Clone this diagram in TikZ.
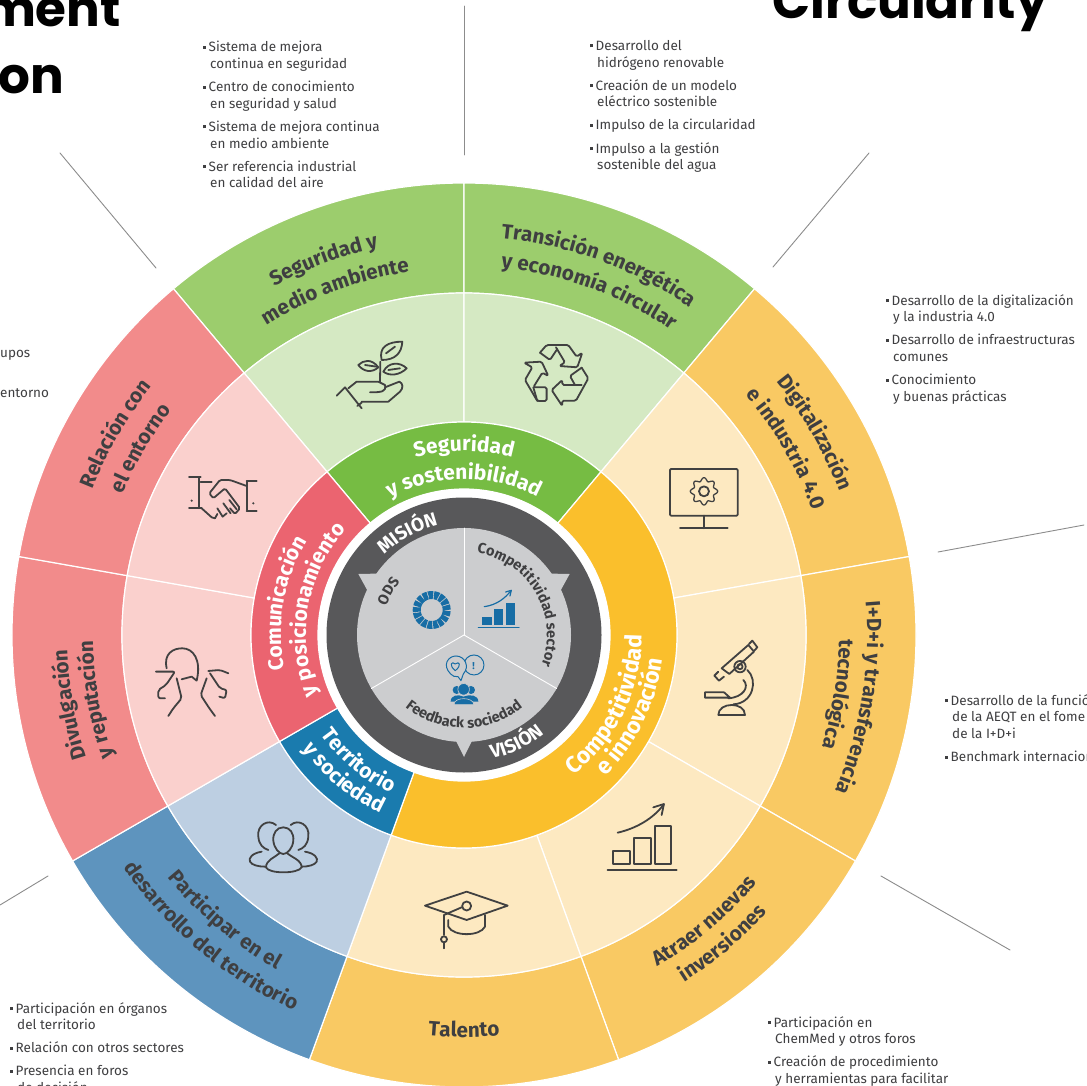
\documentclass[tikz,border=0pt]{standalone}
\usepackage{fontspec}
\setmainfont{Fira Sans}
\newfontfamily\headfont{Poppins}
\usetikzlibrary{decorations.text}
\definecolor{greenout}{rgb}{0.612,0.804,0.427}
\definecolor{greenmid}{rgb}{0.835,0.914,0.765}
\definecolor{greenin}{rgb}{0.463,0.737,0.263}
\definecolor{yellowout}{rgb}{0.976,0.788,0.388}
\definecolor{yellowmid}{rgb}{0.992,0.914,0.757}
\definecolor{yellowin}{rgb}{0.980,0.749,0.173}
\definecolor{redout}{rgb}{0.949,0.545,0.545}
\definecolor{redmid}{rgb}{0.980,0.816,0.804}
\definecolor{redin}{rgb}{0.922,0.392,0.439}
\definecolor{blueout}{rgb}{0.369,0.580,0.745}
\definecolor{bluemid}{rgb}{0.741,0.812,0.886}
\definecolor{bluein}{rgb}{0.102,0.482,0.682}
\definecolor{darkring}{rgb}{0.345,0.345,0.353}
\definecolor{graydisc}{rgb}{0.800,0.804,0.812}
\definecolor{labeldark}{rgb}{0.247,0.247,0.255}
\definecolor{icondark}{rgb}{0.255,0.255,0.255}
\definecolor{iconblue}{rgb}{0.090,0.427,0.647}
\newcommand{\outfont}{\color{labeldark}\bfseries\fontsize{20.6}{20}\selectfont}
\newcommand{\infont}{\color{white}\bfseries\fontsize{21}{21}\selectfont}
\newcommand{\bigfont}{\color{white}\bfseries\fontsize{23}{23}\selectfont}
\newcommand{\ringfont}{\color{white}\bfseries\fontsize{19}{19}\selectfont}
\newcommand{\discfont}{\color{labeldark}\bfseries\fontsize{14.6}{14}\selectfont}
\newcommand{\ringsec}[5]{\filldraw[fill=#1,draw=white,line width=1.2pt] (#2:#4pt) arc[start angle=#2,end angle=#3,radius=#4pt] -- (#3:#5pt) arc[start angle=#3,end angle=#2,radius=#5pt] -- cycle;}
\newcommand{\toparc}[4]{\path[decorate,decoration={text along path,text align=center,text={|#3|#4}}] ({#2+85}:#1pt) arc[start angle={#2+85},end angle={#2-85},radius=#1pt];}
\newcommand{\botarc}[4]{\path[decorate,decoration={text along path,text align=center,text={|#3|#4}}] ({#2-85}:#1pt) arc[start angle={#2-85},end angle={#2+85},radius=#1pt];}
\newcommand{\bul}{\rule[3pt]{3pt}{3pt}\hspace{2.5pt}}
\newcommand{\ind}{\hspace*{7pt}}
\tikzset{
  listbox/.style={anchor=north west,inner sep=0pt,align=left,text=labeldark,font=\fontsize{13.5}{16.7}\selectfont},
  headtxt/.style={anchor=base east,inner sep=0pt,font=\headfont\bfseries\fontsize{50}{50}\selectfont},
  sepline/.style={draw=black!45,line width=0.9pt},
  iconline/.style={draw=icondark,line width=1.8pt,fill=none},
  zoomA/.style={shift={(320,-330)},x=0.3333pt,y=-0.3333pt},
  zoomB/.style={shift={(650,-450)},x=0.3333pt,y=-0.3333pt},
  zoomC/.style={shift={(240,-770)},x=0.3333pt,y=-0.3333pt},
  zoomD/.style={shift={(130,-340)},x=0.3333pt,y=-0.3333pt},
  zoomE/.style={shift={(300,-470)},x=0.3333pt,y=-0.3333pt}
}
\begin{document}
\begin{tikzpicture}[line cap=round,line join=round,x=1pt,y=1pt]
	\useasboundingbox (0,-1086) rectangle (1087,0);
	\clip (0,-1086) rectangle (1087,0);
	\fill [white] (0,-1086) rectangle (1087,0);
	% headings cut by the page
	\node[headtxt] (headment) at (121,-27) {ment};
	\node[headtxt] (headon) at (64,-94) {on};
	\node[headtxt] (headcirc) at (1048,-19) {Circularity};
	% thin lines between the lists
	\draw [sepline] (464,-6) -- (464,-155);
	\draw [sepline] (60,-153) -- (156,-268);
	\draw [sepline] (869,-153) -- (773,-267);
	\draw [sepline] (938,-552) -- (1084,-525);
	\draw [sepline] (881,-876) -- (1010,-950);
	\draw [sepline] (48,-876) -- (0,-905);
	% lists
	\node[listbox] (listsafe) at (203,-41) {\bul Sistema de mejora\\\ind continua en seguridad\\[6.4pt]\bul Centro de conocimiento\\\ind en seguridad y salud\\[6.4pt]\bul Sistema de mejora continua\\\ind en medio ambiente\\[6.4pt]\bul Ser referencia industrial\\\ind en calidad del aire};
	\node[listbox] (listenergy) at (590,-40) {\bul Desarrollo del\\\ind hidrógeno renovable\\[6.4pt]\bul Creación de un modelo\\\ind eléctrico sostenible\\[6.4pt]\bul Impulso de la circularidad\\[6.4pt]\bul Impulso a la gestión\\\ind sostenible del agua};
	\node[listbox] (listdigital) at (886,-294) {\bul Desarrollo de la digitalización\\\ind y la industria 4.0\\[6.4pt]\bul Desarrollo de infraestructuras\\\ind comunes\\[6.4pt]\bul Conocimiento\\\ind y buenas prácticas};
	\node[listbox] (listrd) at (945,-694) {\bul Desarrollo de la funció\\\ind de la AEQT en el fome\\\ind de la I+D+i\\[6.4pt]\bul Benchmark internacion};
	\node[listbox,anchor=base west] (listupos) at (0,-357) {upos};
	\node[listbox,anchor=base west] (listentorno) at (0,-397) {entorno};
	\node[listbox] (listland) at (10,-1002) {\bul Participación en órganos\\\ind del territorio\\[6.4pt]\bul Relación con otros sectores\\[6.4pt]\bul Presencia en foros\\\ind de decisión};
	\node[listbox] (listinvest) at (768,-1016) {\bul Participación en\\\ind ChemMed y otros foros\\[6.4pt]\bul Creación de procedimiento\\\ind y herramientas para facilitar};
	% the wheel
	\begin{scope}[shift={(464,-635)}]
		\ringsec{greenout}{130}{90}{452}{342}
		\ringsec{greenout}{90}{50}{452}{342}
		\ringsec{yellowout}{50}{10}{452}{342}
		\ringsec{yellowout}{10}{-30}{452}{342}
		\ringsec{yellowout}{-30}{-70}{452}{342}
		\ringsec{yellowout}{-70}{-110}{452}{342}
		\ringsec{blueout}{-110}{-150}{452}{342}
		\ringsec{redout}{-150}{-190}{452}{342}
		\ringsec{redout}{170}{130}{452}{342}
		\ringsec{greenmid}{130}{90}{342}{213}
		\ringsec{greenmid}{90}{50}{342}{213}
		\ringsec{yellowmid}{50}{10}{342}{213}
		\ringsec{yellowmid}{10}{-30}{342}{213}
		\ringsec{yellowmid}{-30}{-70}{342}{213}
		\ringsec{yellowmid}{-70}{-110}{342}{213}
		\ringsec{bluemid}{-110}{-150}{342}{213}
		\ringsec{redmid}{-150}{-190}{342}{213}
		\ringsec{redmid}{170}{130}{342}{213}
		\ringsec{greenin}{130}{50}{213}{146}
		\ringsec{yellowin}{50}{-110}{213}{146}
		\ringsec{bluein}{-110}{-150}{213}{146}
		\ringsec{redin}{210}{130}{213}{146}
		\fill [white] (0,0) circle (146pt);
		\fill [darkring] (0,0) circle (137.5pt);
		\fill [graydisc] (0,0) circle (107pt);
		\fill [graydisc] (-90:122pt) -- (-95:104pt) -- (-85:104pt) -- cycle;
		\fill [graydisc] (150:122pt) -- (142:100pt) -- (158:100pt) -- cycle;
		\fill [graydisc] (30:122pt) -- (22:100pt) -- (38:100pt) -- cycle;
		\draw [white,line width=0.9pt] (0,0) -- (90:107pt);
		\draw [white,line width=0.9pt] (0,0) -- (-30:107pt);
		\draw [white,line width=0.9pt] (0,0) -- (210:107pt);
		% labels of the outer ring
		\toparc{397}{110.5}{\outfont}{Seguridad y}
		\toparc{367}{110.5}{\outfont}{medio ambiente}
		\toparc{398}{70}{\outfont}{Transición energética}
		\toparc{369}{70}{\outfont}{y economía circular}
		\toparc{402}{30}{\outfont}{Digitalización}
		\toparc{370}{30}{\outfont}{e industria 4.0}
		\toparc{403}{-9}{\outfont}{I+D+i y transferencia}
		\toparc{375}{-9}{\outfont}{tecnológica}
		\botarc{384}{-50}{\outfont}{Atraer nuevas}
		\botarc{411}{-50}{\outfont}{inversiones}
		\botarc{402}{-90}{\outfont}{Talento}
		\botarc{383}{-130}{\outfont}{Participar en el}
		\botarc{412}{-130}{\outfont}{desarrollo del territorio}
		\toparc{397}{190}{\outfont}{Divulgación}
		\toparc{371}{190}{\outfont}{y reputación}
		\toparc{399}{150}{\outfont}{Relación con}
		\toparc{369}{150}{\outfont}{el entorno}
		% labels of the inner ring
		\toparc{184}{90}{\infont}{Seguridad}
		\toparc{156}{90}{\infont}{y sostenibilidad}
		\toparc{183}{170}{\infont}{Comunicación}
		\toparc{158}{170}{\infont}{y posicionamiento}
		\botarc{178}{-26}{\bigfont}{Competitividad}
		\botarc{200}{-26}{\bigfont}{e innovación}
		\botarc{174}{-130}{\infont}{Territorio}
		\botarc{197}{-130}{\infont}{y sociedad}
		% labels of the disc
		\toparc{113}{119}{\ringfont}{MISIÓN}
		\botarc{127}{-64}{\ringfont}{VISIÓN}
		\toparc{83}{30}{\discfont}{Competitividad sector}
		\toparc{83}{150}{\discfont}{ODS}
		\botarc{93}{-90}{\discfont}{Feedback sociedad}
	\end{scope}
	% icons of the disc
	\draw [iconblue,line cap=butt,line width=8pt,dash pattern=on 4.6pt off 0.94pt] (431.7,-610) circle (15pt);
	\begin{scope}[zoomE]
		\fill [iconblue] (545,442) rectangle (575,465);
		\fill [iconblue] (583,418) rectangle (610,465);
		\fill [iconblue] (618,398) rectangle (645,465);
		\draw [iconblue,line width=1.2pt] (535,472) -- (657,472);
		\draw [iconblue,line width=1.2pt] (553,410) .. controls (590,405) and (615,385) .. (633,362);
		\draw [iconblue,line width=1.2pt] (617,366) -- (634,361) -- (630,378);
		\draw [iconblue,line width=1pt] (522,585) circle (10pt);
		\filldraw [fill=graydisc,draw=iconblue,line width=1pt] (452,612) .. controls (425,585) and (445,558) .. (468,558) .. controls (495,558) and (510,590) .. (490,612) -- (483,632) -- (474,620) .. controls (465,622) and (458,618) .. (452,612) -- cycle;
		\draw [iconblue,line width=1pt] (466,602) .. controls (445,585) and (455,572) .. (466,582) .. controls (477,572) and (487,585) .. (466,602) -- cycle;
		\node[text=iconblue,font=\bfseries\fontsize{10}{10}\selectfont,inner sep=0pt] (bang) at (521,588) {!};
		\fill [iconblue] (470,660) circle (4pt);
		\fill [iconblue] (513,660) circle (4pt);
		\fill [iconblue] (452,695) .. controls (452,675) and (475,672) .. (490,680) .. controls (510,672) and (535,675) .. (535,695) -- cycle;
		\filldraw [fill=iconblue,draw=graydisc,line width=0.6pt] (491,658) circle (5.8pt);
		\filldraw [fill=iconblue,draw=graydisc,line width=0.6pt] (462,704) .. controls (462,680) and (520,680) .. (522,704) -- cycle;
	\end{scope}
	% icons of the middle ring
	\begin{scope}[zoomA]
		\draw [iconline] (180,155) -- (181,95);
		\draw [iconline] (185,90) .. controls (175,50) and (205,35) .. (247,35) .. controls (245,70) and (225,90) .. (185,90) -- cycle;
		\draw [iconline] (198,70) -- (225,50);
		\draw [iconline] (175,112) .. controls (155,85) and (130,90) .. (115,105) .. controls (130,125) and (155,130) .. (175,112) -- cycle;
		\draw [iconline] (135,105) -- (170,110);
		\draw [iconline] (190,125) .. controls (205,95) and (240,95) .. (260,115) .. controls (240,135) and (210,140) .. (190,125) -- cycle;
		\draw [iconline] (205,120) -- (240,115);
		\draw [iconline] (50,197) -- (75,172) -- (125,235);
		\draw [iconline] (112,228) -- (125,218);
		\draw [iconline] (85,175) -- (110,155) -- (175,155) -- (195,165) .. controls (200,185) and (185,187) .. (150,187);
		\draw [iconline] (195,172) -- (238,155) .. controls (250,160) and (250,175) .. (240,185) -- (205,215) -- (125,215);
		\draw [iconline,rounded corners=1.5pt] (660,68) -- (680,45) -- (745,45) -- (770,80) -- (787,68) -- (772,112) -- (718,108) -- (735,97) -- (708,52);
		\draw [iconline,rounded corners=1.5pt] (660,68) -- (690,90) -- (712,57);
		\draw [iconline,rounded corners=1.5pt] (612,98) -- (665,95) -- (685,138) -- (667,128) -- (640,172) -- (680,172) -- (680,213) -- (652,213) -- (615,150) -- (637,112) -- cycle;
		\draw [iconline] (640,172) -- (652,213);
		\draw [iconline,rounded corners=1.5pt] (785,113) -- (805,145) -- (768,212) -- (727,212) -- (727,228) -- (695,180) -- (727,150) -- (727,165) -- (785,165);
		\draw [iconline,rounded corners=1.5pt] (785,113) -- (750,138) -- (765,165);
	\end{scope}
	\begin{scope}[zoomB]
		\draw [iconline,rounded corners=1pt] (60,57) rectangle (263,197);
		\draw [iconline] (162,197) -- (162,235);
		\draw [iconline] (90,235) -- (233,235);
		\draw [iconline] (162,124) circle (5pt);
		\draw [iconline,line width=1.3pt,shift={(162,124)}] plot[domain=0:360,samples=121,smooth] (\x:{36+5*cos(8*\x)}) -- cycle;
		\draw [iconline] (215,655) -- (295,585) -- (312,605) -- (238,672) -- cycle;
		\draw [iconline] (297,582) -- (307,572) -- (322,592) -- (312,603);
		\draw [iconline] (205,665) -- (193,677) -- (207,692) -- (222,680);
		\draw [iconline] (270,650) circle (5.7pt);
		\draw [iconline] (270,650) circle (2.6pt);
		\draw [iconline] (292,660) .. controls (325,690) and (310,760) .. (250,763);
		\draw [iconline] (280,690) .. controls (300,710) and (280,742) .. (235,745);
		\draw [iconline] (165,727) -- (222,727) -- (240,743) -- (165,743) -- cycle;
		\draw [iconline] (205,795) -- (285,795) .. controls (285,775) and (265,765) .. (245,765) .. controls (225,765) and (205,775) .. (205,795) -- cycle;
	\end{scope}
	\begin{scope}[zoomC]
		\draw [iconline] (1120,242) rectangle (1170,282);
		\draw [iconline] (1182,205) rectangle (1232,282);
		\draw [iconline] (1244,167) rectangle (1294,282);
		\draw [iconline] (1103,300) -- (1310,300);
		\draw [iconline] (1133,188) .. controls (1190,175) and (1240,145) .. (1270,105);
		\draw [iconline] (1240,112) -- (1272,102) -- (1265,135);
		\draw [iconline] (555,407) -- (680,365) -- (803,407) -- (680,450) -- cycle;
		\draw [iconline] (680,408) circle (4.5pt);
		\draw [iconline] (665,412) -- (612,435) -- (612,495);
		\draw [iconline] (612,508) circle (3pt);
		\draw [iconline] (612,518) -- (612,535);
		\draw [iconline] (625,450) -- (625,470) .. controls (640,500) and (720,500) .. (735,470) -- (735,435);
		\draw [iconline] (130,172) .. controls (110,172) and (98,190) .. (100,212) .. controls (102,235) and (118,252) .. (130,252) .. controls (142,252) and (158,235) .. (160,212) .. controls (162,190) and (150,172) .. (130,172) -- cycle;
		\draw [iconline] (78,292) .. controls (78,270) and (105,262) .. (118,250);
		\draw [iconline] (142,250) .. controls (155,262) and (185,270) .. (185,292) .. controls (175,312) and (85,312) .. (78,292);
		\draw [iconline] (108,165) .. controls (85,145) and (50,165) .. (55,200) .. controls (57,225) and (70,235) .. (85,240);
		\draw [iconline] (65,245) .. controls (35,250) and (25,265) .. (30,275) .. controls (35,285) and (55,290) .. (75,290);
		\draw [iconline] (152,165) .. controls (175,145) and (210,165) .. (205,200) .. controls (203,225) and (190,235) .. (175,240);
		\draw [iconline] (195,245) .. controls (225,250) and (235,265) .. (230,275) .. controls (225,285) and (205,290) .. (185,290);
	\end{scope}
	\begin{scope}[zoomD]
		\draw [iconline] (177,412) -- (212,412);
		\draw [iconline] (212,425) -- (245,425);
		\draw [iconline] (207,412) -- (207,505);
		\draw [iconline] (177,505) -- (215,505);
		\draw [iconline] (350,425) -- (350,510);
		\draw [iconline] (350,422) -- (380,422);
		\draw [iconline] (350,512) -- (380,512);
		\fill [icondark] (185,482) circle (1.2pt);
		\fill [icondark] (370,490) circle (1.2pt);
		\draw [iconline,rounded corners=1.5pt] (350,438) -- (300,420) -- (270,420) -- (238,460) -- (250,475) -- (285,445) -- (330,505) -- (315,522) -- (300,505);
		\draw [iconline] (215,505) -- (245,532) -- (255,535) -- (262,522);
		\draw [iconline] (262,505) -- (278,530) -- (290,520);
		\draw [iconline] (280,490) -- (302,520);
		\draw [iconline] (298,480) -- (320,508);
		\draw [iconline] (110,985) .. controls (100,940) and (130,925) .. (157,925) .. controls (190,925) and (215,960) .. (200,1022) -- (185,1010) -- (155,1018);
		\draw [iconline,rounded corners=2pt] (78,995) -- (135,995) -- (108,1035) -- (85,1050) -- (85,1075) -- (105,1075);
		\draw [iconline,rounded corners=2pt] (140,1015) -- (155,1075) -- (130,1105) -- (115,1128);
		\draw [iconline,rounded corners=2pt] (235,993) -- (270,990) -- (295,1000);
		\draw [iconline,rounded corners=2pt] (240,1000) -- (270,1045) -- (290,1050) -- (285,1075) -- (268,1070);
		\draw [iconline,rounded corners=2pt] (230,1015) -- (212,1065) -- (238,1105) -- (255,1128);
	\end{scope}
\end{tikzpicture}
\end{document}
